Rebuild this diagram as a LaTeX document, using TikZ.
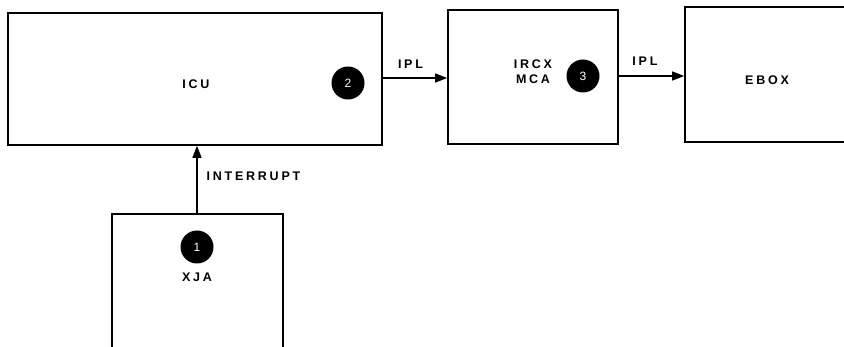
\documentclass[tikz,border=0pt]{standalone}
\usepackage{fontspec}
\setmainfont{Liberation Sans}[LetterSpace=22]
\usetikzlibrary{arrows.meta}
\begin{document}
\begin{tikzpicture}[x=1pt,y=-1pt,
  blk/.style={draw,line width=1.6pt,inner sep=0pt},
  lbl/.style={font=\fontsize{12.5}{15}\bfseries,inner sep=0pt,align=center},
  badge/.style={circle,fill=black,text=white,minimum size=33pt,inner sep=0pt,font=\fontsize{12}{13}\selectfont},
  sig/.style={line width=1.4pt,-{Triangle[length=12pt,width=9pt]}}]
\useasboundingbox (0,0) rectangle (844,347);
% boxes
\node[blk,minimum width=374pt,minimum height=132pt] (icu) at (195,79) {};
\node[blk,minimum width=170pt,minimum height=134pt] (ircx) at (533,77) {};
\node[blk,minimum width=200pt,minimum height=135pt] (ebox) at (785,74.5) {};
\node[blk,minimum width=171pt,minimum height=160pt] (xja) at (197.5,294) {};
% texts
\node[lbl] (ticu) at (196,84) {ICU};
\node[lbl] (tircx) at (533,72) {IRCX\\MCA};
\node[lbl] (tebox) at (767,80) {EBOX};
\node[lbl] (txja) at (197,277) {XJA};
% badges
\node[badge] (b2) at (348,83) {2};
\node[badge] (b3) at (583,76) {3};
\node[badge] (b1) at (197,247) {1};
% connectors
\coordinate (a1) at (icu.east |- 0,78);
\coordinate (a2) at (ircx.east |- 0,76);
\draw[sig] (a1) -- (ircx.west |- a1) node[lbl,pos=0.43,above=9pt] (ipl1) {IPL};
\draw[sig] (a2) -- (ebox.west |- a2) node[lbl,pos=0.4,above=10pt] (ipl2) {IPL};
\draw[sig] (xja.north -| 197,0) -- (icu.south -| 197,0) node[lbl,pos=0.55,right=9pt] (tint) {INTERRUPT};
\end{tikzpicture}
\end{document}
